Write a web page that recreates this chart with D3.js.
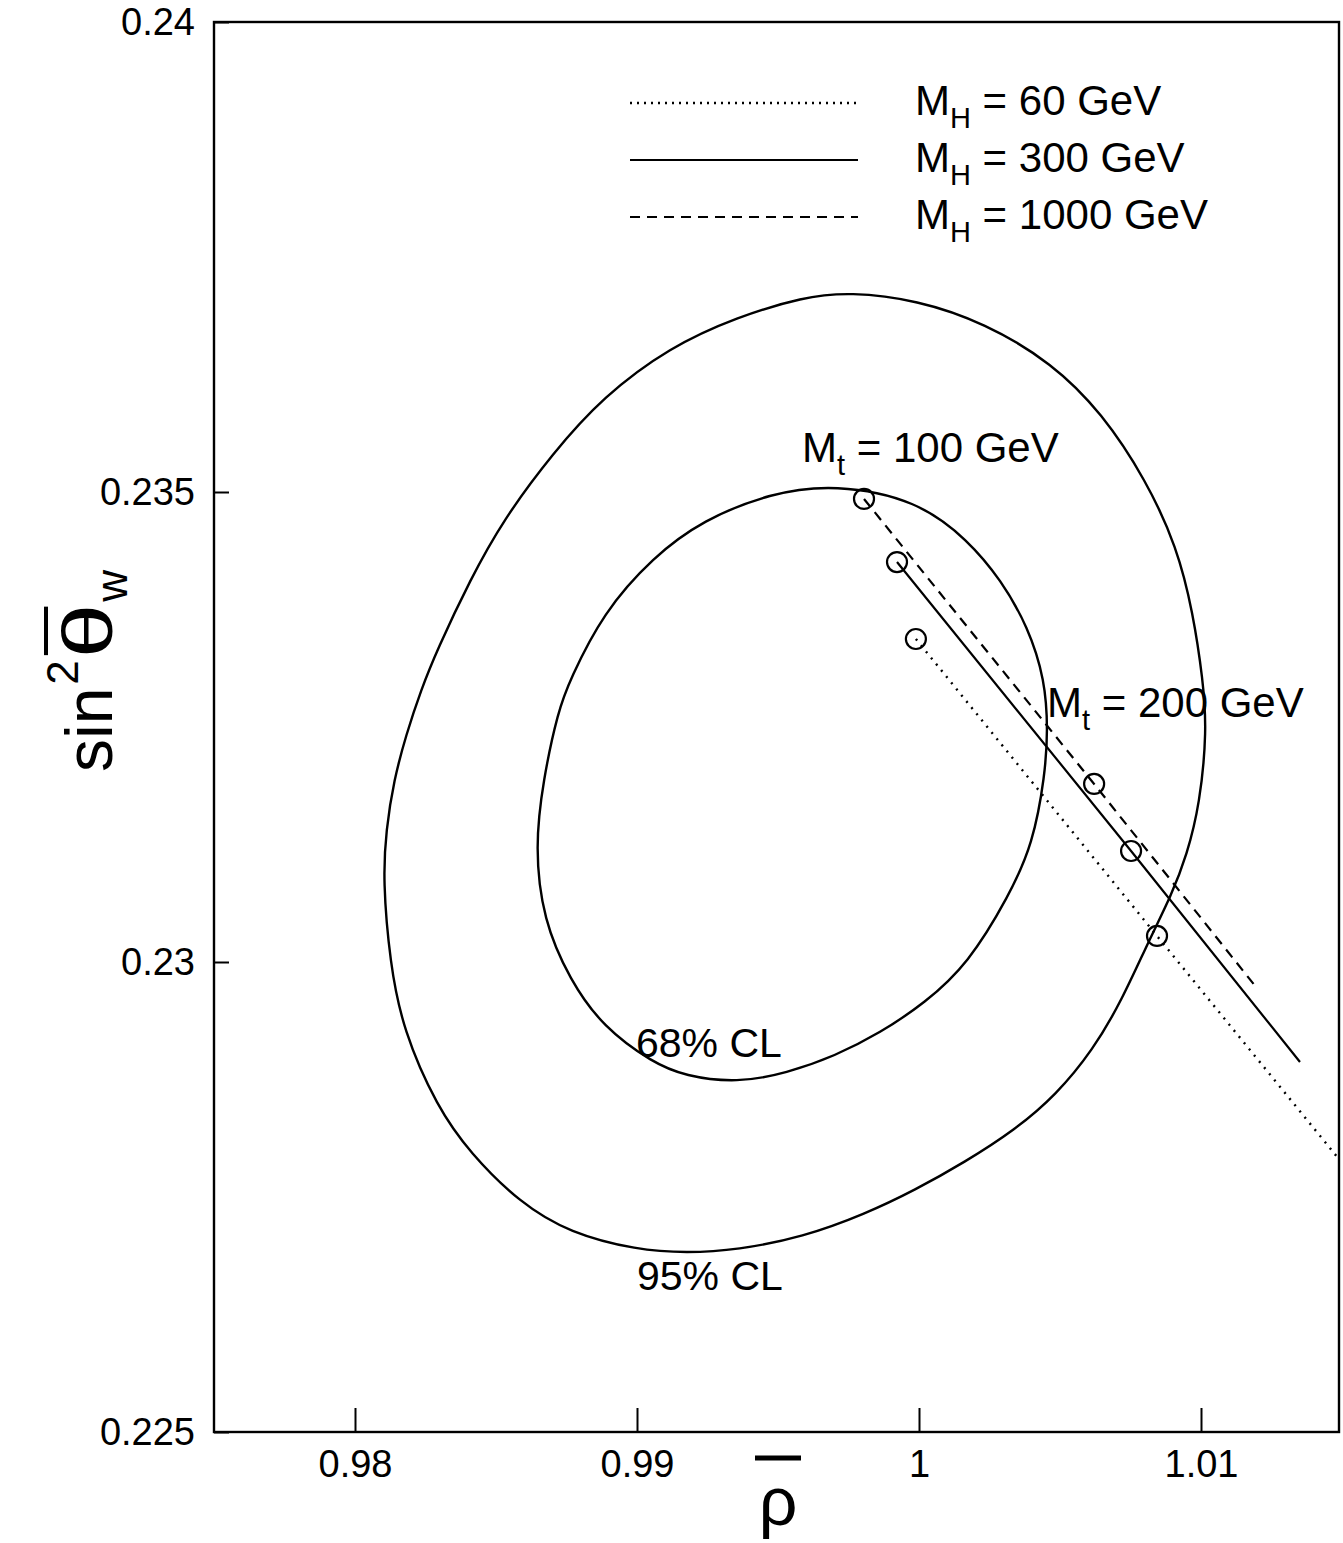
<!DOCTYPE html>
<html>
<head>
<meta charset="utf-8">
<script src="https://cdn.jsdelivr.net/npm/d3@7"></script>
<style>
  html, body { margin: 0; padding: 0; background: #fff; }
  svg { display: block; font-family: 'Liberation Sans', Arial, sans-serif; }
</style>
</head>
<body>
<svg id="chart"></svg>
<script>
/* global d3 */
'use strict'

// axis ticks
const xTicks = [0.98, 0.99, 1, 1.01]
const xTickLabels = ['0.98', '0.99', '1', '1.01']
const yTicks = [0.225, 0.23, 0.235, 0.24]
const yTickLabels = ['0.225', '0.23', '0.235', '0.24']

// 95% CL contour (rho, sin2theta)
const rho95 = [0.99755, 0.99993, 1.00234, 1.00472, 1.00649, 1.00805, 1.00915, 1.00972, 1.01007, 1.01021,
  1.00996, 1.00950, 1.00894, 1.00816, 1.00720, 1.00617, 1.00486, 1.00340, 1.00163, 0.99986, 0.99809,
  0.99589, 0.99355, 0.99177, 0.99000, 0.98762, 0.98585, 0.98408, 0.98291, 0.98170, 0.98124,
  0.98099, 0.98110, 0.98138, 0.98181, 0.98234, 0.98291, 0.98408, 0.98525, 0.98702, 0.98879, 0.99117, 0.99355, 0.99589]
const sin95 = [0.237128, 0.237043, 0.236798, 0.236372, 0.235840, 0.235128, 0.234415, 0.233713, 0.233000, 0.232468,
  0.231681, 0.231138, 0.230702, 0.230234, 0.229596, 0.229064, 0.228585, 0.228213, 0.227872, 0.227574, 0.227319,
  0.227074, 0.226936, 0.226904, 0.226936, 0.227117, 0.227436, 0.227968, 0.228457, 0.229277, 0.229989,
  0.230872, 0.231404, 0.231936, 0.232415, 0.232894, 0.233319, 0.234064, 0.234702, 0.235415, 0.236011, 0.236543, 0.236862, 0.237074]

// 68% CL contour
const rho68 = [0.99702, 0.99993, 1.00174, 1.00291, 1.00387, 1.00447, 1.00457, 1.00447, 1.00404, 1.00319,
  1.00174, 1.00021, 0.99862, 0.99702, 0.99532, 0.99355, 0.99170, 0.99057, 0.98879, 0.98762, 0.98667,
  0.98638, 0.98667, 0.98720, 0.98762, 0.98879, 0.99057, 0.99234, 0.99472]
const sin68 = [0.235085, 0.234915, 0.234489, 0.234064, 0.233564, 0.233000, 0.232468, 0.231989, 0.231255, 0.230702,
  0.229979, 0.229564, 0.229245, 0.229000, 0.228819, 0.228713, 0.228787, 0.228926, 0.229309, 0.229809, 0.230447,
  0.231223, 0.231936, 0.232670, 0.233000, 0.233713, 0.234309, 0.234702, 0.234989]

// predictions: points at Mt = 100 GeV, Mt = 200 GeV, end of curve
const higgsNames = ['60 GeV', '300 GeV', '1000 GeV']
const rhoMH60 = [0.99989, 1.00844, 1.01486]
const sinMH60 = [0.233436, 0.230277, 0.227915]
const rhoMH300 = [0.99922, 1.00752, 1.01351]
const sinMH300 = [0.234255, 0.231181, 0.228936]
const rhoMH1000 = [0.99805, 1.00621, 1.01195]
const sinMH1000 = [0.234926, 0.231894, 0.229734]

const width = 1343
const height = 1543
const svg = d3.select('#chart').attr('width', width).attr('height', height)

const x = d3.scaleLinear().domain([0.975, 1.015]).range([214, 1342])
const y = d3.scaleLinear().domain([0.225, 0.24]).range([1432, 22])

const zip = (a, b) => a.map((v, i) => [v, b[i]])

// frame
svg.append('rect')
  .attr('x', x(0.975)).attr('y', y(0.24))
  .attr('width', x(1.015) - x(0.975) - 3).attr('height', y(0.225) - y(0.24))
  .attr('fill', 'none').attr('stroke', '#000').attr('stroke-width', 2.4)

// axes with inward ticks
const xAxis = svg.append('g')
  .attr('transform', `translate(0,${y(0.225)})`)
  .call(d3.axisBottom(x).tickValues(xTicks).tickSize(-24).tickPadding(18)
    .tickFormat((d, i) => xTickLabels[i]))
const yAxis = svg.append('g')
  .attr('transform', `translate(${x(0.975)},0)`)
  .call(d3.axisLeft(y).tickValues(yTicks).tickSize(-15).tickPadding(19)
    .tickFormat((d, i) => yTickLabels[i]))

;[xAxis, yAxis].forEach(g => {
  g.select('.domain').remove()
  g.selectAll('line').attr('stroke', '#000').attr('stroke-width', 2)
  g.selectAll('text').attr('font-size', 38).attr('fill', '#000')
    .attr('font-family', "'Liberation Sans', Arial, sans-serif")
})

// contours, smoothed
const contour = d3.line().x(d => x(d[0])).y(d => y(d[1])).curve(d3.curveBasisClosed)
;[zip(rho95, sin95), zip(rho68, sin68)].forEach(pts => {
  svg.append('path')
    .attr('d', contour(pts))
    .attr('fill', 'none').attr('stroke', '#000').attr('stroke-width', 2.4)
})

// prediction lines
const dashes = ['2,6', null, '10,7']
const legendDashes = ['2,5', null, '10,7']
const series = [zip(rhoMH60, sinMH60), zip(rhoMH300, sinMH300), zip(rhoMH1000, sinMH1000)]
const straight = d3.line().x(d => x(d[0])).y(d => y(d[1]))

series.forEach((pts, i) => {
  svg.append('path')
    .attr('d', straight(pts))
    .attr('fill', 'none').attr('stroke', '#000').attr('stroke-width', i === 0 ? 2.4 : 2.2)
    .attr('stroke-dasharray', dashes[i])
  svg.selectAll(null)
    .data(pts.slice(0, 2))
    .enter().append('circle')
    .attr('cx', d => x(d[0])).attr('cy', d => y(d[1]))
    .attr('r', 10)
    .attr('fill', 'none').attr('stroke', '#000').attr('stroke-width', 2.2)
})

// legend
const legend = svg.append('g')
higgsNames.forEach((name, i) => {
  const ly = 103 + i * 57
  legend.append('line')
    .attr('x1', 630).attr('x2', 858).attr('y1', ly).attr('y2', ly)
    .attr('stroke', '#000').attr('stroke-width', i === 0 ? 2.4 : 2.2)
    .attr('stroke-dasharray', legendDashes[i])
  const t = legend.append('text').attr('x', 915).attr('y', ly + 12).attr('font-size', 42)
  t.append('tspan').text('M')
  t.append('tspan').attr('dy', 13).attr('font-size', 29).text('H')
  t.append('tspan').attr('dy', -13).text(' = ' + name)
})

// annotations
function massLabel (px, py, sub, rest) {
  const t = svg.append('text').attr('x', px).attr('y', py).attr('font-size', 42)
  t.append('tspan').text('M')
  t.append('tspan').attr('dy', 13).attr('font-size', 29).text(sub)
  t.append('tspan').attr('dy', -13).text(rest)
}
massLabel(802, 462, 't', ' = 100 GeV')
massLabel(1047, 717, 't', ' = 200 GeV')

svg.append('text').attr('x', 636).attr('y', 1057).attr('font-size', 41).text('68% CL')
svg.append('text').attr('x', 637).attr('y', 1290).attr('font-size', 41).text('95% CL')

// x axis title: rho with bar
svg.append('line')
  .attr('x1', 755).attr('x2', 801).attr('y1', 1458).attr('y2', 1458)
  .attr('stroke', '#000').attr('stroke-width', 5)
svg.append('text')
  .attr('x', 778).attr('y', 1525)
  .attr('text-anchor', 'middle')
  .attr('font-size', 68)
  .text('ρ')

// y axis title: sin^2 theta-bar_w
const yLabel = svg.append('g').attr('transform', 'translate(112,772) rotate(-90)')
const sinText = yLabel.append('text').attr('font-size', 66).text('sin')
let pos = sinText.node().getComputedTextLength()
const sup = yLabel.append('text').attr('x', pos + 3).attr('y', -34).attr('font-size', 44).text('2')
pos += 5 + sup.node().getComputedTextLength()
const thetaG = yLabel.append('g').attr('transform', `translate(${pos},0) scale(1.4,1)`)
const theta = thetaG.append('text').attr('font-size', 70).text('θ')
const thetaW = theta.node().getComputedTextLength() * 1.4
yLabel.append('line')
  .attr('x1', pos + 3).attr('x2', pos + thetaW - 3)
  .attr('y1', -66).attr('y2', -66)
  .attr('stroke', '#000').attr('stroke-width', 4)
pos += thetaW
yLabel.append('text').attr('x', pos + 2).attr('y', 15).attr('font-size', 44).text('w')
</script>
</body>
</html>
